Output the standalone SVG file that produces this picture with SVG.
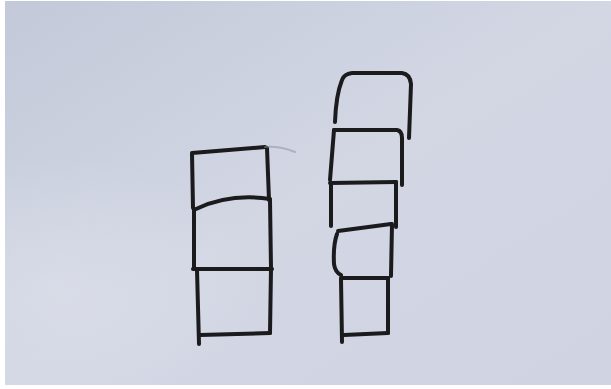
<svg xmlns="http://www.w3.org/2000/svg" width="611" height="389" viewBox="0 0 611 389">
<defs>
<linearGradient id="paper" x1="0" y1="0" x2="1" y2="1">
<stop offset="0" stop-color="#c3c9d9"/>
<stop offset="0.5" stop-color="#d3d7e4"/>
<stop offset="1" stop-color="#cfd3e2"/>
</linearGradient>
<radialGradient id="shade" cx="0.08" cy="0.75" r="0.35">
<stop offset="0" stop-color="#dde0ea" stop-opacity="0.6"/>
<stop offset="1" stop-color="#dde0ea" stop-opacity="0"/>
</radialGradient>
<style>
.ink{fill:none;stroke:#1b1b1d;stroke-width:4;stroke-linecap:round;stroke-linejoin:round}
.faint{fill:none;stroke:#8a8d98;stroke-width:2;stroke-linecap:round;opacity:0.5}
</style>
</defs>
<rect width="611" height="389" fill="#ffffff"/>
<rect x="5" y="1" width="606" height="384" fill="url(#paper)"/>
<rect x="5" y="1" width="606" height="384" fill="url(#shade)"/>
<g id="left-stack">
<g id="left-box1">
<path class="ink" d="M193,208 L192,153 L265,147"/>
<path class="ink" d="M267,148 L269,200"/>
<path class="faint" d="M265,147 Q280,146 295,152"/>
</g>
<g id="left-box2">
<path class="ink" d="M196,209 Q230,193 270,199"/>
<path class="ink" d="M194,209 L194,268"/>
<path class="ink" d="M270,200 L271,268"/>
</g>
<g id="left-box3">
<path class="ink" d="M193,269 L272,269"/>
<path class="ink" d="M197,270 L199,344"/>
<path class="ink" d="M271,269 L270,333"/>
<path class="ink" d="M200,335 L270,333"/>
</g>
</g>
<g id="right-stack">
<g id="right-box1">
<path class="ink" d="M335,122 Q336,95 342,80 Q344,74 352,73 L402,73 Q410,74 411,84 L409,138"/>
</g>
<g id="right-box2">
<path class="ink" d="M334,130 L397,130 Q402,131 402,138 L402,185"/>
<path class="ink" d="M334,130 L330,180"/>
</g>
<g id="right-box3">
<path class="ink" d="M330,183 L396,182"/>
<path class="ink" d="M396,182 L396,227"/>
<path class="ink" d="M331,183 L331,226"/>
</g>
<g id="right-box4">
<path class="ink" d="M338,231 L391,224"/>
<path class="ink" d="M337,234 Q333,245 334,264 Q335,272 341,275"/>
<path class="ink" d="M392,224 L391,276"/>
</g>
<g id="right-box5">
<path class="ink" d="M341,278 L388,278"/>
<path class="ink" d="M341,279 L342,342"/>
<path class="ink" d="M388,278 L388,333"/>
<path class="ink" d="M344,335 L388,333"/>
</g>
</g>
<g id="connectors"></g>
</svg>
